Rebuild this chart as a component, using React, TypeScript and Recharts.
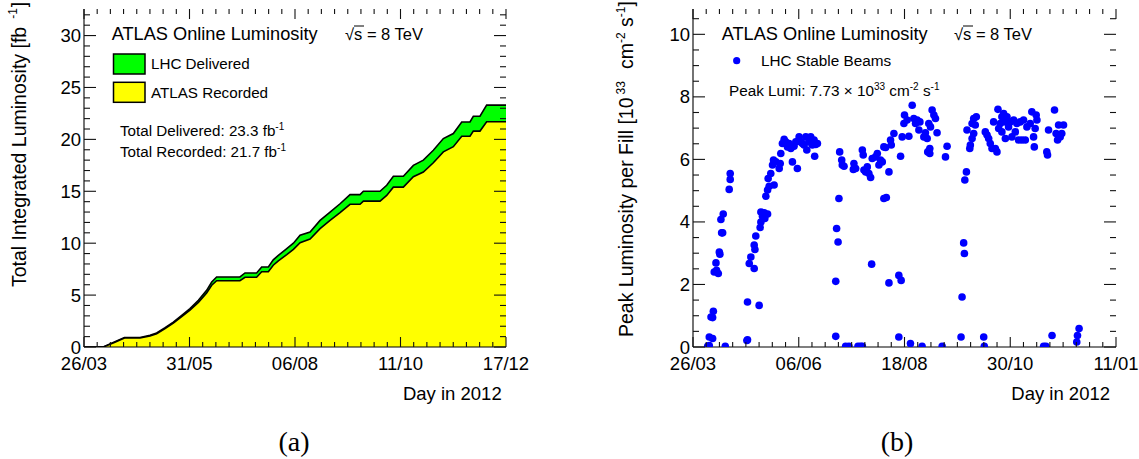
import React from 'react';
import { ComposedChart, Area, ScatterChart, Scatter, XAxis, YAxis } from 'recharts';

const FONT = '"Liberation Sans", Arial, Helvetica, sans-serif';
const SERIF = '"Liberation Serif", "Times New Roman", serif';

// ---- (a) integrated luminosity, 2012, x = day of year ----
const lumiDays = [
  86, 98.2, 105.5, 111.5, 121.3, 127.6, 131.8, 137.1, 142.3, 147.6, 152.8, 158.1, 163.3, 166.5,
  169.6, 184.3, 187.5, 194.8, 198.0, 202.2, 205.3, 208.5, 213.8, 218.0, 222.2, 228.5, 234.8,
  241.1, 247.4, 253.7, 260.0, 262.1, 272.6, 276.8, 281.0, 287.3, 293.6, 299.9, 306.2, 312.5,
  318.8, 324.1, 329.3, 331.4, 335.6, 339.8, 352,
];
const lumiDelivered = [
  0, 0, 0.5, 0.92, 0.92, 1.12, 1.35, 1.86, 2.4, 3.05, 3.7, 4.5, 5.46, 6.26,
  6.75, 6.75, 7.13, 7.13, 7.71, 7.71, 8.4, 8.83, 9.47, 10.0, 10.76, 11.08, 12.2,
  13.0, 13.8, 14.68, 14.68, 15.0, 15.0, 15.58, 16.45, 16.45, 17.5, 18.0, 18.95, 20.08,
  20.56, 21.68, 21.68, 22.23, 22.23, 23.3, 23.3,
];
const lumiRecorded = [
  0, 0, 0.45, 0.86, 0.86, 1.06, 1.28, 1.78, 2.3, 2.92, 3.55, 4.3, 5.2, 5.95,
  6.38, 6.38, 6.72, 6.72, 7.25, 7.25, 7.88, 8.3, 8.9, 9.4, 10.05, 10.4, 11.4,
  12.2, 12.95, 13.75, 13.75, 14.05, 14.05, 14.6, 15.4, 15.4, 16.4, 16.85, 17.75, 18.8,
  19.3, 20.3, 20.3, 20.8, 20.8, 21.7, 21.7,
];
const lumiDateLabels = ['26/03', '31/05', '06/08', '11/10', '17/12'];
const lumiValueLabels = ['0', '5', '10', '15', '20', '25', '30'];

// ---- (b) peak luminosity per fill ----
const fillDays = [
  96.1, 97.2, 97.2, 99.5, 98.4, 100.0, 99.5, 100.6, 102.2, 103.4, 101.8, 104.1, 104.5, 105.7,
  106.4, 105.2, 106.8, 110.9, 111.6, 111.6, 108.2, 123.5, 123.1, 123.5, 124.7, 125.8, 128.1,
  128.1, 128.6, 129.2, 131.5, 132.2, 132.7, 132.7, 133.8, 135.0, 135.4, 137.3, 136.1, 137.3,
  138.4, 137.7, 139.5, 141.8, 140.7, 141.4, 143.0, 145.3, 146.0, 146.4, 147.5, 148.7, 149.8,
  151.0, 152.1, 153.3, 154.4, 155.5, 156.7, 157.8, 159.0, 160.1, 161.3, 162.4, 163.6, 164.3,
  165.8, 167.0, 168.1, 169.3, 170.4, 169.7, 171.6, 184.2, 184.2, 184.8, 185.8, 186.4, 186.9,
  188.3, 189.9, 188.7, 191.0, 193.3, 196.7, 197.9, 196.3, 199.5, 201.3, 202.5, 202.5, 203.1,
  203.6, 204.8, 205.9, 208.2, 207.0, 208.9, 209.3, 211.6, 212.8, 213.9, 215.0, 216.2, 217.3,
  219.0, 217.3, 218.5, 220.8, 220.8, 221.9, 222.4, 224.2, 227.6, 227.6, 229.2, 228.8, 229.9,
  231.1, 231.5, 233.3, 234.5, 235.6, 236.8, 237.9, 239.1, 240.2, 241.4, 242.1, 243.6, 244.8,
  245.9, 247.1, 247.5, 248.9, 248.9, 248.2, 249.4, 250.5, 251.7, 252.8, 253.9, 257.4, 259.7,
  260.8, 270.4, 271.1, 272.2, 272.7, 273.0, 274.1, 274.5, 276.4, 276.8, 278.0, 279.1, 278.0,
  279.1, 280.9, 280.2, 286.0, 286.4, 287.1, 288.3, 289.4, 290.5, 291.7, 292.8, 294.0, 295.1,
  295.8, 296.3, 297.4, 298.5, 298.5, 299.7, 300.9, 300.9, 302.0, 303.1, 304.3, 305.4, 306.6,
  307.7, 308.8, 310.0, 311.1, 312.3, 313.4, 314.6, 315.7, 319.1, 318.0, 320.3, 320.8, 322.1,
  322.6, 321.4, 327.2, 328.8, 329.4, 329.9, 330.6, 333.0, 334.7, 335.8, 336.8, 337.5, 338.6,
  339.7, 340.9, 350.0, 350.5, 351.6,
];
const fillPeaks = [
  0.02, 0.05, 0.32, 0.27, 0.96, 1.14, 0.94, 2.4, 2.45, 2.35, 2.69, 3.04, 2.97, 3.65,
  3.65, 4.08, 4.25, 5.04, 5.36, 5.55, 0.02, 0.23, 0.21, 1.44, 2.67, 2.88, 2.51,
  3.26, 3.12, 3.55, 1.33, 3.82, 4.0, 4.32, 4.18, 4.29, 4.11, 4.25, 4.82, 5.02,
  5.14, 5.39, 5.55, 5.18, 5.82, 5.98, 5.92, 5.71, 5.87, 6.19, 6.51, 6.64, 6.56,
  6.4, 6.51, 6.35, 5.92, 6.42, 6.56, 5.71, 6.72, 6.56, 6.51, 6.46, 6.72, 6.3,
  6.56, 6.72, 6.46, 6.62, 6.48, 6.1, 6.51, 0.34, 2.1, 3.79, 3.36, 4.75, 6.24,
  5.98, 5.78, 5.82, 0.02, 0.02, 5.87, 5.71, 5.68, 0.02, 0.02, 0.02, 6.3, 6.14,
  5.66, 5.6, 5.76, 5.42, 5.55, 2.65, 6.03, 6.08, 6.19, 5.82, 5.98, 5.92, 4.75,
  4.78, 6.4, 6.38, 5.6, 2.05, 6.62, 6.46, 6.83, 0.32, 2.29, 2.13, 6.1, 6.72,
  7.15, 7.42, 7.26, 6.74, 0.11, 7.73, 7.31, 7.15, 7.26, 6.94, 7.2, 0.02, 6.72,
  6.85, 6.67, 6.24, 6.35, 6.19, 7.15, 7.04, 7.58, 7.42, 7.31, 6.85, 0.02, 6.08,
  6.42, 0.32, 1.6, 3.33, 2.99, 5.34, 5.6, 6.94, 6.35, 6.46, 6.67, 6.83, 7.15,
  7.31, 7.36, 7.1, 0.32, 0.02, 6.88, 6.78, 6.67, 6.51, 6.35, 7.2, 6.35, 6.24,
  7.6, 6.99, 7.15, 6.88, 7.36, 7.47, 7.2, 6.67, 7.36, 7.04, 7.2, 6.72, 7.26,
  6.88, 7.15, 6.62, 7.2, 6.62, 7.26, 6.62, 7.04, 7.52, 7.15, 6.72, 6.4, 7.42,
  7.26, 6.99, 0.02, 0.02, 6.24, 6.14, 6.94, 0.37, 7.58, 6.83, 6.62, 7.1, 6.72,
  6.83, 7.1, 0.16, 0.37, 0.59,
];
const peakDateLabels = ['26/03', '06/06', '18/08', '30/10', '11/01'];
const peakValueLabels = ['0', '2', '4', '6', '8', '10'];

const lumiRows = lumiDays.map((day, i) => ({ day, delivered: lumiDelivered[i], recorded: lumiRecorded[i] }));
const peakRows = fillDays.map((day, i) => ({ day, peak: fillPeaks[i] }));

// axis ranges (26/03/2012 = day 86, 11/01/2013 = day 377)
const lumiX: [number, number] = [86, 352];
const lumiY: [number, number] = [0, 32.56];
const peakX: [number, number] = [86, 377];
const peakY: [number, number] = [0, 10.81];

const divide = (lo: number, hi: number, n: number) =>
  Array.from({ length: n + 1 }, (_, i) => lo + ((hi - lo) * i) / n);
const steps = (lo: number, hi: number, step: number) =>
  Array.from({ length: Math.floor((hi - lo) / step + 1e-9) + 1 }, (_, i) => lo + i * step);

const lumiXTicks = divide(lumiX[0], lumiX[1], 32);
const lumiYTicks = steps(0, 32, 1);
const peakXTicks = divide(peakX[0], peakX[1], 32);
const peakYTicks = steps(0, 10.5, 0.5);

type Frame = { left: number; right: number; top: number; bottom: number };

// plot frames in chart-local pixels
const LEFT_FRAME: Frame = { left: 84, right: 506, top: 9, bottom: 347 };
const RIGHT_FRAME: Frame = { left: 93, right: 516, top: 9, bottom: 347 };

const indexOf = (ticks: number[], v: number) => ticks.findIndex((t) => Math.abs(t - v) < 1e-6);

// ROOT style: ticks point into the frame, mirrored on the opposite side
function xTick(frame: Frame, ticks: number[], labels: string[], per: number) {
  return (props: any) => {
    const x = props.x;
    const i = indexOf(ticks, props.payload.value);
    const major = i % per === 0;
    const len = major ? 10 : 5;
    return (
      <g>
        <line x1={x} x2={x} y1={frame.bottom} y2={frame.bottom - len} stroke="#111" strokeWidth={1.1} />
        <line x1={x} x2={x} y1={frame.top} y2={frame.top + len} stroke="#111" strokeWidth={1.1} />
        {major && (
          <text x={x} y={frame.bottom + 23} textAnchor="middle" fontFamily={FONT} fontSize={18.5} fill="#000">
            {labels[i / per]}
          </text>
        )}
      </g>
    );
  };
}

function yTick(frame: Frame, ticks: number[], labels: string[], per: number) {
  return (props: any) => {
    const y = props.y;
    const i = indexOf(ticks, props.payload.value);
    const major = i % per === 0;
    const len = major ? 12 : 6;
    return (
      <g>
        <line x1={frame.left} x2={frame.left + len} y1={y} y2={y} stroke="#111" strokeWidth={1.1} />
        <line x1={frame.right} x2={frame.right - len} y1={y} y2={y} stroke="#111" strokeWidth={1.1} />
        {major && (
          <text x={frame.left - 3} y={y + 6.5} textAnchor="end" fontFamily={FONT} fontSize={18.5} fill="#000">
            {labels[i / per]}
          </text>
        )}
      </g>
    );
  };
}

const dayTitle = (x: number) => ({
  content: () => (
    <text x={x} y={400} textAnchor="end" fontFamily={FONT} fontSize={18.5} fill="#000">
      Day in 2012
    </text>
  ),
});

function SqrtS({ x, y }: { x: number; y: number }) {
  return (
    <g>
      <text x={x} y={y} fontFamily={FONT} fontSize={16.5} fill="#000">
        √s = 8 TeV
      </text>
      <line x1={x + 9} x2={x + 19} y1={y - 14} y2={y - 14} stroke="#000" strokeWidth={1} />
    </g>
  );
}

function LumiNotes() {
  return (
    <svg width={560} height={459} style={{ position: 'absolute', left: 0, top: 0, pointerEvents: 'none' }}>
      <text x={111.7} y={40} fontFamily={FONT} fontSize={18.2} fill="#000">
        ATLAS Online Luminosity
      </text>
      <SqrtS x={345} y={40} />
      <rect x={113.5} y={54} width={31.5} height={20} fill="#00ff00" stroke="#000" strokeWidth={1.5} />
      <rect x={113.5} y={82.3} width={31.5} height={20} fill="#ffff00" stroke="#000" strokeWidth={1.5} />
      <g fontFamily={FONT} fontSize={15.2} fill="#000">
        <text x={151} y={69.3}>LHC Delivered</text>
        <text x={151} y={97.7}>ATLAS Recorded</text>
        <text x={120} y={135.7}>
          Total Delivered: 23.3 fb<tspan dy={-6} fontSize={10}>-1</tspan>
        </text>
        <text x={120} y={156.7}>
          Total Recorded: 21.7 fb<tspan dy={-6} fontSize={10}>-1</tspan>
        </text>
      </g>
      <text x={294} y={451} textAnchor="middle" fontFamily={SERIF} fontSize={28} fill="#000">
        (a)
      </text>
    </svg>
  );
}

function PeakNotes() {
  return (
    <svg width={539} height={459} style={{ position: 'absolute', left: 0, top: 0, pointerEvents: 'none' }}>
      <text x={121.7} y={40} fontFamily={FONT} fontSize={18.2} fill="#000">
        ATLAS Online Luminosity
      </text>
      <SqrtS x={354} y={40} />
      <circle cx={136.7} cy={60.7} r={3.6} fill="#0000ff" />
      <g fontFamily={FONT} fontSize={15.3} fill="#000">
        <text x={161} y={66}>LHC Stable Beams</text>
        <text x={129} y={95.7}>
          Peak Lumi: 7.73 × 10<tspan dy={-6} fontSize={10}>33</tspan>
          <tspan dy={6}> cm</tspan>
          <tspan dy={-6} fontSize={10}>-2</tspan>
          <tspan dy={6}> s</tspan>
          <tspan dy={-6} fontSize={10}>-1</tspan>
        </text>
      </g>
      <text x={297} y={451} textAnchor="middle" fontFamily={SERIF} fontSize={28} fill="#000">
        (b)
      </text>
    </svg>
  );
}

const lumiYTitle = {
  content: () => (
    <text x={26} y={287} transform="rotate(-90 26 287)" fontFamily={FONT} fontSize={19.5} fill="#000">
      Total Integrated Luminosity [fb
      <tspan dx={8} dy={-9} fontSize={12}>-1</tspan>
      <tspan dx={1} dy={9}>]</tspan>
    </text>
  ),
};

const peakYTitle = {
  content: () => (
    <text x={33} y={337} transform="rotate(-90 33 337)" fontFamily={FONT} fontSize={19.5} fill="#000">
      Peak Luminosity per Fill [10
      <tspan dx={3} dy={-8} fontSize={12}>33</tspan>
      <tspan dx={12} dy={8}>cm</tspan>
      <tspan dy={-8} fontSize={12}>-2</tspan>
      <tspan dy={8}> s</tspan>
      <tspan dy={-8} fontSize={12}>-1</tspan>
      <tspan dy={8}>]</tspan>
    </text>
  ),
};

const frameLine = { stroke: '#000', strokeWidth: 1.1 };

function LumiPanel() {
  return (
    <div style={{ position: 'absolute', left: 0, top: 0, width: 560, height: 459 }}>
      <ComposedChart width={560} height={459} data={lumiRows} margin={{ top: 9, right: 54, bottom: 82, left: 0 }}>
        <Area
          type="linear"
          dataKey="delivered"
          fill="#00ff00"
          fillOpacity={1}
          stroke="#000"
          strokeWidth={1.6}
          dot={false}
          activeDot={false}
          isAnimationActive={false}
        />
        <Area
          type="linear"
          dataKey="recorded"
          fill="#ffff00"
          fillOpacity={1}
          stroke="#000"
          strokeWidth={1.6}
          dot={false}
          activeDot={false}
          isAnimationActive={false}
        />
        <XAxis
          dataKey="day"
          type="number"
          domain={lumiX}
          allowDataOverflow
          ticks={lumiXTicks}
          interval={0}
          tick={xTick(LEFT_FRAME, lumiXTicks, lumiDateLabels, 8)}
          tickLine={false}
          tickSize={0}
          axisLine={frameLine}
          height={30}
          label={dayTitle(501.7)}
        />
        <XAxis xAxisId="top" orientation="top" type="number" domain={lumiX} allowDataOverflow height={0} tick={false} tickLine={false} axisLine={frameLine} />
        <YAxis
          type="number"
          domain={lumiY}
          allowDataOverflow
          ticks={lumiYTicks}
          interval={0}
          tick={yTick(LEFT_FRAME, lumiYTicks, lumiValueLabels, 5)}
          tickLine={false}
          tickSize={0}
          axisLine={frameLine}
          width={84}
          label={lumiYTitle}
        />
        <YAxis yAxisId="right" orientation="right" type="number" domain={lumiY} allowDataOverflow width={0} tick={false} tickLine={false} axisLine={frameLine} />
      </ComposedChart>
      <LumiNotes />
    </div>
  );
}

function PeakPanel() {
  return (
    <div style={{ position: 'absolute', left: 600, top: 0, width: 539, height: 459 }}>
      <ScatterChart width={539} height={459} margin={{ top: 9, right: 23, bottom: 82, left: 0 }}>
        <Scatter
          data={peakRows}
          fill="#0000ff"
          isAnimationActive={false}
          shape={(p: any) => <circle cx={p.cx} cy={p.cy} r={3.8} fill="#0000ff" />}
        />
        <XAxis
          dataKey="day"
          type="number"
          domain={peakX}
          allowDataOverflow
          ticks={peakXTicks}
          interval={0}
          tick={xTick(RIGHT_FRAME, peakXTicks, peakDateLabels, 8)}
          tickLine={false}
          tickSize={0}
          axisLine={frameLine}
          height={30}
          label={dayTitle(510)}
        />
        <XAxis xAxisId="top" orientation="top" type="number" domain={peakX} allowDataOverflow height={0} tick={false} tickLine={false} axisLine={frameLine} />
        <YAxis
          dataKey="peak"
          type="number"
          domain={peakY}
          allowDataOverflow
          ticks={peakYTicks}
          interval={0}
          tick={yTick(RIGHT_FRAME, peakYTicks, peakValueLabels, 4)}
          tickLine={false}
          tickSize={0}
          axisLine={frameLine}
          width={93}
          label={peakYTitle}
        />
        <YAxis yAxisId="right" orientation="right" type="number" domain={peakY} allowDataOverflow width={0} tick={false} tickLine={false} axisLine={frameLine} />
      </ScatterChart>
      <PeakNotes />
    </div>
  );
}

export default function App() {
  return (
    <div style={{ position: 'absolute', left: 0, top: 0, width: 1139, height: 459, background: '#fff' }}>
      <LumiPanel />
      <PeakPanel />
    </div>
  );
}
